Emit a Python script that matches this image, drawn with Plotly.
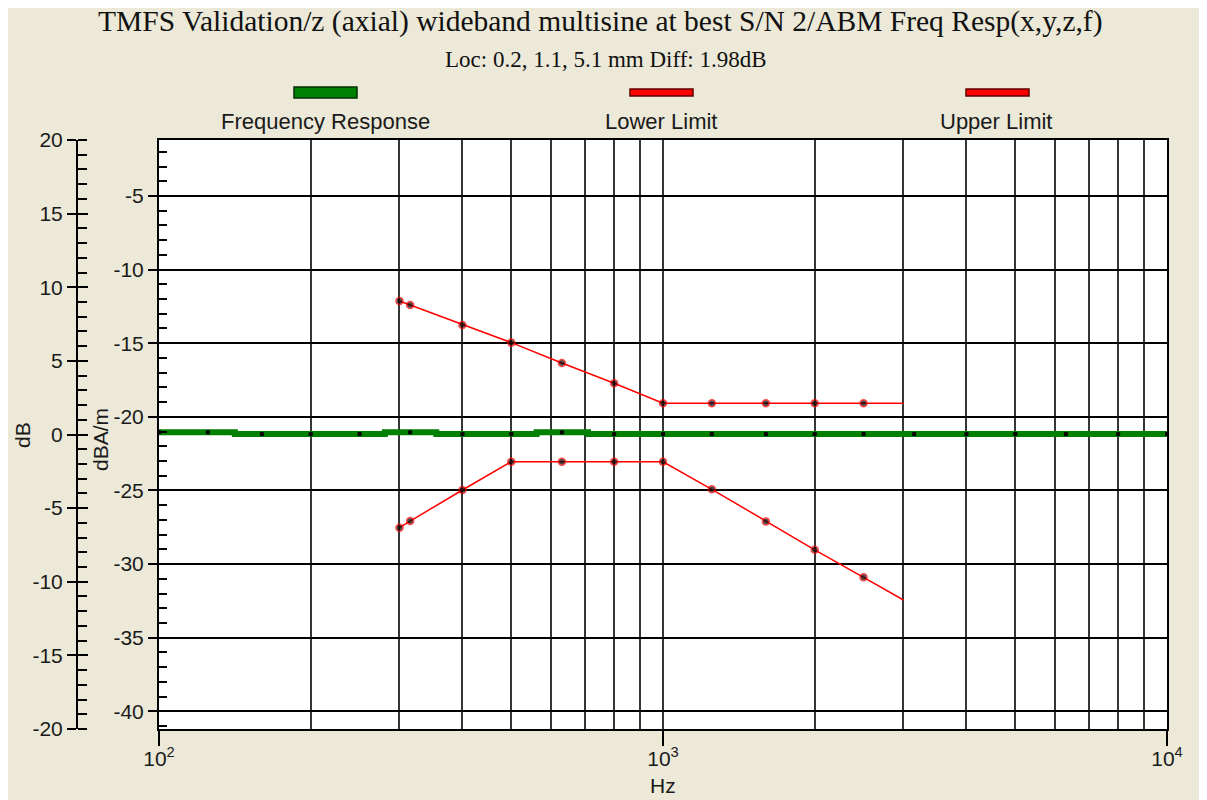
"""TMFS validation frequency response chart."""

import plotly.graph_objects as go

PAGE_MARGIN = 8  # default body margin of the html page
W, H = 1207 - PAGE_MARGIN, 800 - PAGE_MARGIN

# 1/3 octave bands of the measured response (dB)
RESP_HZ = [100, 125, 160, 200, 250, 315, 400, 500, 630, 800, 1000,
           1250, 1600, 2000, 2500, 3150, 4000, 5000, 6300, 8000, 10000]
RESP_DB = [0.15, 0.15, 0.03, 0.03, 0.03, 0.15, 0.03, 0.03, 0.15, 0.03, 0.03,
           0.03, 0.03, 0.03, 0.03, 0.03, 0.03, 0.03, 0.03, 0.03, 0.03]

# limit masks (dB)
LIMIT_HZ = [300, 315, 400, 500, 630, 800, 1000, 1250, 1600, 2000, 2500, 3000]
UPPER_DB = [9.07, 8.80, 7.44, 6.24, 4.86, 3.48, 2.12, 2.12, 2.12, 2.12, 2.12, 2.12]
LOWER_DB = [-6.33, -5.88, -3.77, -1.85, -1.85, -1.85, -1.85, -3.72, -5.90, -7.83, -9.70, -11.24]

LEGEND = ["Frequency Response", "Lower Limit", "Upper Limit"]
X_TICKS = [100, 1000, 10000]
X_TICKTEXT = ["10<sup>2</sup>", "10<sup>3</sup>", "10<sup>4</sup>"]
X_GRID = [200, 300, 400, 500, 600, 700, 800, 900,
          2000, 3000, 4000, 5000, 6000, 7000, 8000, 9000]
DB_TICKS = [20, 15, 10, 5, 0, -5, -10, -15, -20]
DBAM_TICKS = [-5, -10, -15, -20, -25, -30, -35, -40]

DB_RANGE = [-20, 20]
DBAM_OFFSET = -21.2  # dBA/m = dB + offset

BG = "#ECE9D8"
SANS = "Liberation Sans, Arial, sans-serif"
SERIF = "Liberation Serif, Times New Roman, serif"
INK = "#1a1a1a"
GRID_V = "#353535"


def px(x):
    return (x - PAGE_MARGIN) / W


def py(y):
    return 1 - (y - PAGE_MARGIN) / H


marker_sizes = [7] * (len(LIMIT_HZ) - 1) + [0]

fig = go.Figure()
fig.add_trace(go.Scatter(
    x=RESP_HZ, y=RESP_DB, mode="lines+markers", line_shape="hvh",
    line=dict(color="#008000", width=6),
    marker=dict(symbol="square", size=4, color="black"),
    name=LEGEND[0],
))
fig.add_trace(go.Scatter(
    x=LIMIT_HZ, y=LOWER_DB, mode="lines+markers",
    line=dict(color="#FF0000", width=1.5),
    marker=dict(size=marker_sizes, color="black", line=dict(color="#FF0000", width=1.5)),
    name=LEGEND[1],
))
fig.add_trace(go.Scatter(
    x=LIMIT_HZ, y=UPPER_DB, mode="lines+markers",
    line=dict(color="#FF0000", width=1.5),
    marker=dict(size=marker_sizes, color="black", line=dict(color="#FF0000", width=1.5)),
    name=LEGEND[2],
))
# empty traces so the two helper axes get drawn
for ax in ("y2", "y3"):
    fig.add_trace(go.Scatter(x=[], y=[], yaxis=ax, showlegend=False, hoverinfo="skip"))

dom_x = [px(159), px(1167)]
dom_y = [py(729), py(140)]
tickfont = dict(family=SANS, size=21, color=INK)

fig.update_layout(
    width=W, height=H,
    margin=dict(l=0, r=0, t=0, b=0, autoexpand=False),
    paper_bgcolor=BG, plot_bgcolor="white",
    showlegend=False,
    xaxis=dict(
        type="log", range=[2, 4], domain=dom_x, anchor="y2", automargin=False,
        tickvals=X_TICKS, ticktext=X_TICKTEXT, tickfont=tickfont,
        ticks="outside", ticklen=15, tickwidth=1.5, tickcolor="black", ticklabelstandoff=-5,
        showgrid=True, gridcolor=GRID_V, gridwidth=2,
        minor=dict(tickvals=X_GRID, showgrid=True, gridcolor=GRID_V, gridwidth=2, ticks=""),
        showline=True, linecolor="black", linewidth=2, mirror=True, zeroline=False,
    ),
    # dB axis, free on the far left (data axis)
    yaxis=dict(
        domain=dom_y, anchor="free", position=px(77), side="left", automargin=False,
        range=DB_RANGE, tickvals=DB_TICKS, ticktext=[str(v) for v in DB_TICKS], tickfont=tickfont,
        ticks="outside", ticklen=9, tickwidth=1.5, tickcolor="black",
        minor=dict(dtick=1, tick0=0, ticks="inside", ticklen=9, tickwidth=1.5, tickcolor="black"),
        showgrid=False, zeroline=False,
        showline=True, linecolor="black", linewidth=2,
    ),
    # dBA/m axis on the plot edge, carries the horizontal grid
    yaxis2=dict(
        overlaying="y", anchor="x", side="left", automargin=False,
        range=[DB_RANGE[0] + DBAM_OFFSET, DB_RANGE[1] + DBAM_OFFSET],
        tickvals=DBAM_TICKS, ticktext=[str(v) for v in DBAM_TICKS], tickfont=tickfont,
        ticks="outside", ticklen=9, tickwidth=1.5, tickcolor="black",
        minor=dict(dtick=1, tick0=0, ticks="inside", ticklen=8, tickwidth=1.5,
                   tickcolor="black", showgrid=False),
        showgrid=True, gridcolor="black", gridwidth=1.5,
        showline=True, linecolor="black", linewidth=2, mirror=True, zeroline=False,
    ),
    yaxis3=dict(
        overlaying="y", anchor="free", position=px(77), side="left", automargin=False,
        range=DB_RANGE, dtick=5, showticklabels=False,
        ticks="inside", ticklen=10, tickwidth=1.5, tickcolor="black",
        showgrid=False, zeroline=False, showline=False,
    ),
)

annotations = [
    dict(x=px(600), y=py(22), text="TMFS Validation/z (axial) wideband multisine at best S/N 2/ABM Freq Resp(x,y,z,f)",
         font=dict(family=SERIF, size=29.5, color="#111")),
    dict(x=px(606), y=py(60), text="Loc: 0.2, 1.1, 5.1 mm Diff: 1.98dB",
         font=dict(family=SERIF, size=23, color="#111")),
    dict(x=px(22), y=py(435), text="dB", textangle=-90, font=dict(family=SANS, size=21, color=INK)),
    dict(x=px(101), y=py(440), text="dBA/m", textangle=-90, font=dict(family=SANS, size=21, color=INK)),
    dict(x=px(663), y=py(785), text="Hz", font=dict(family=SANS, size=21, color=INK)),
]
legend_x = [325, 661, 996]
for cx, label in zip(legend_x, LEGEND):
    annotations.append(dict(x=px(cx), y=py(122), text=label, font=dict(family=SANS, size=22, color=INK)))
for a in annotations:
    a.update(xref="paper", yref="paper", showarrow=False, xanchor="center", yanchor="middle")
fig.update_layout(annotations=annotations)

# legend swatches, drawn above their labels
swatches = [
    (294, 357, 87, 98, "#008000", "#003000"),
    (630, 693, 89, 96, "#FF0000", "#600000"),
    (966, 1029, 89, 96, "#FF0000", "#600000"),
]
for x0, x1, y0, y1, fill, edge in swatches:
    fig.add_shape(type="rect", xref="paper", yref="paper",
                  x0=px(x0), x1=px(x1), y0=py(y1), y1=py(y0),
                  fillcolor=fill, line=dict(color=edge, width=1.5))

fig.write_html("out.html")
